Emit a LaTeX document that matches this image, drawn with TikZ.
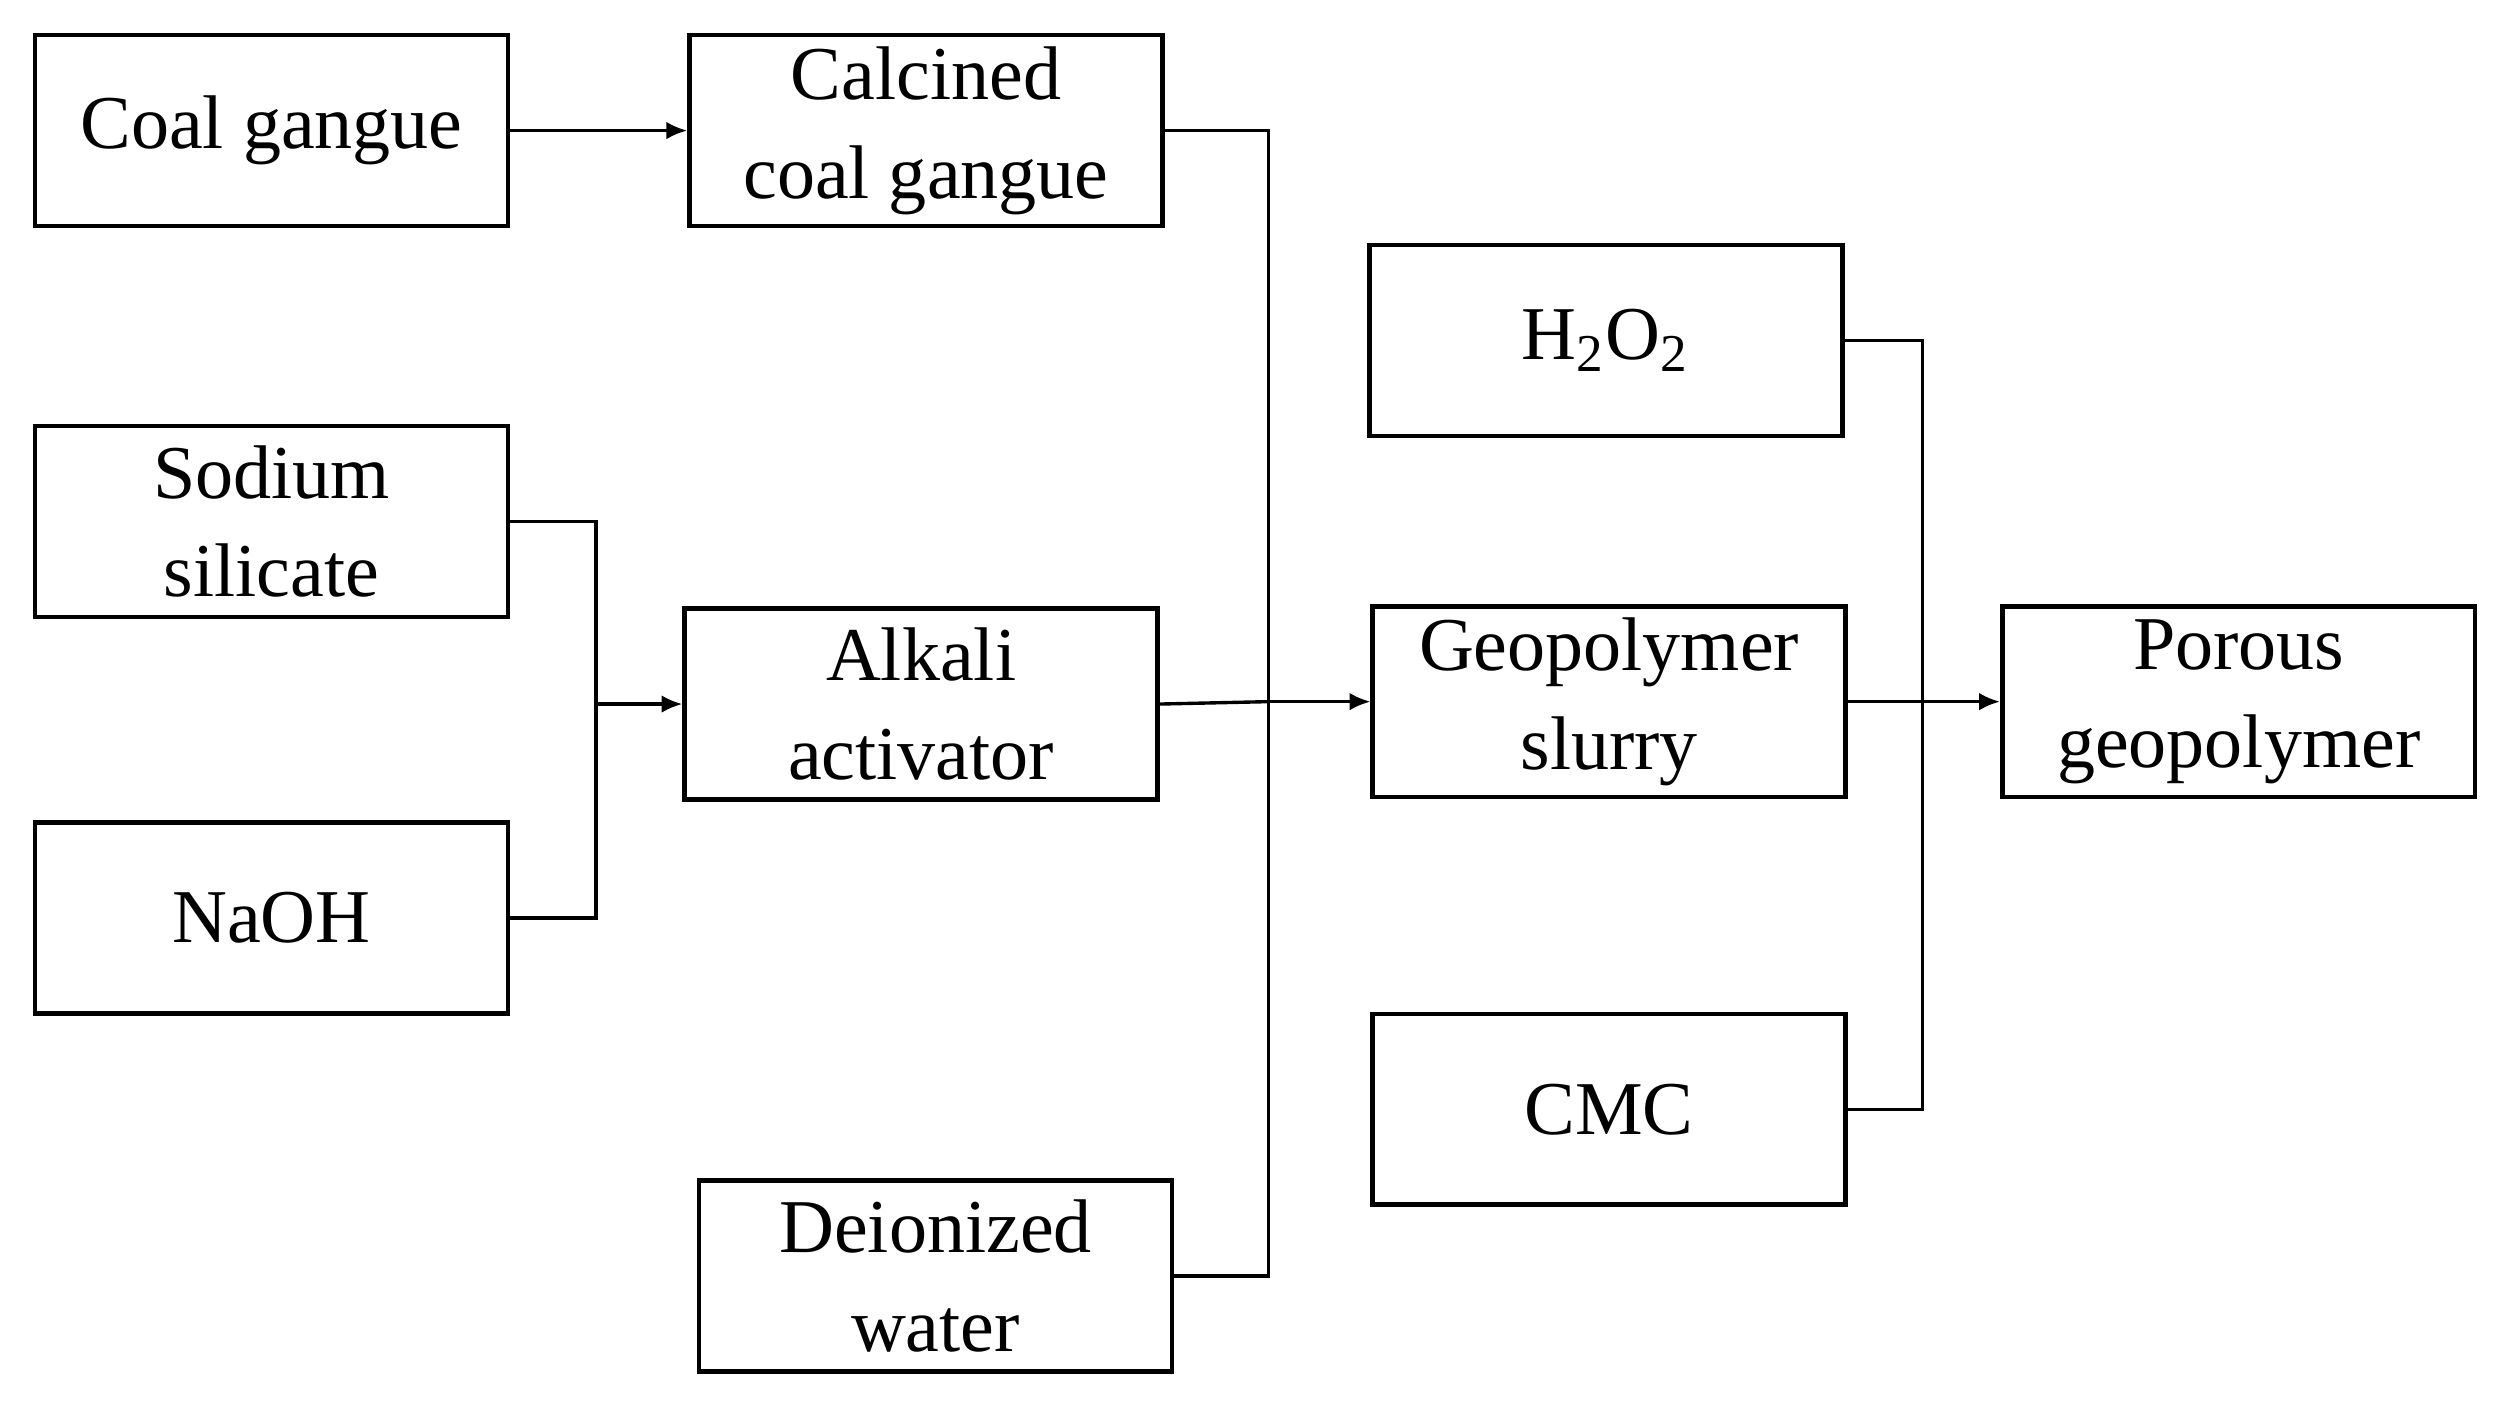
\documentclass[tikz,border=0pt]{standalone}
\usepackage{fontspec}
\setmainfont{Liberation Serif}
\usetikzlibrary{arrows.meta}
\begin{document}
\begin{tikzpicture}[x=0.01cm, y=-0.01cm,
    box/.style={draw, thick, minimum width=2.95cm, minimum height=1.19cm, inner sep=0pt,
        align=center, font=\fontsize{13.5}{17.5}\selectfont},
    link/.style={semithick},
    flow/.style={semithick, -{Latex[length=1.3mm, width=1.1mm]}}]
    \useasboundingbox (0,0) rectangle (1560,876);

    \node[box] (coal) at (169.5,81.5) {Coal gangue};
    \node[box] (calc) at (578,81.5) {Calcined\\coal gangue};
    \node[box] (sod) at (169.5,325.5) {Sodium\\silicate};
    \node[box] (naoh) at (169.5,573) {NaOH};
    \node[box] (alk) at (575,439.5) {Alkali\\activator};
    \node[box] (water) at (584,796.5) {Deionized\\water};
    \node[box] (hoo) at (1002.5,212.5) {H\textsubscript{2}O\textsubscript{2}};
    \node[box] (slurry) at (1004.5,438) {Geopolymer\\slurry};
    \node[box] (cmc) at (1004.5,692.5) {CMC};
    \node[box] (pore) at (1397.5,438) {Porous\\geopolymer};

    % joints
    \coordinate (j1) at (372,439.5);
    \coordinate (j2) at (792,438);
    \coordinate (j3) at (1200,438);

    \draw[flow] (coal) -- (calc);
    \draw[link] (sod.east) -| (j1);
    \draw[link] (naoh.east) -| (j1);
    \draw[flow] (j1) -- (alk);
    \draw[link] (calc.east) -| (j2);
    \draw[link] (water.east) -| (j2);
    \draw[link] (alk.east) -- (j2);
    \draw[flow] (j2) -- (slurry);
    \draw[link] (hoo.east) -| (j3);
    \draw[link] (cmc.east) -| (j3);
    \draw[flow] (slurry) -- (pore);
\end{tikzpicture}
\end{document}
